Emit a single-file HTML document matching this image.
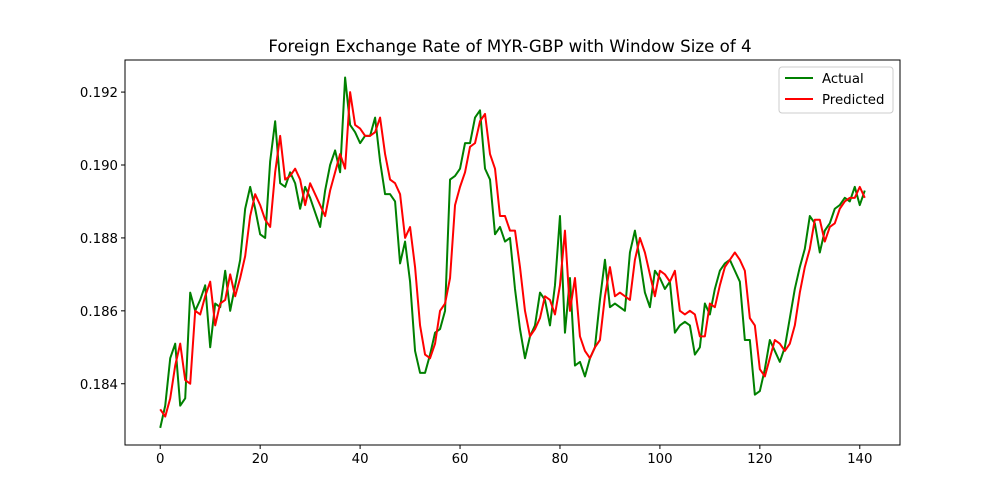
<!DOCTYPE html>
<html><head><meta charset="utf-8"><style>
body{margin:0;background:#fff;}
svg{display:block;font-family:"DejaVu Sans","Liberation Sans",sans-serif;}
</style></head><body>
<svg id="chart" width="1000" height="500">
<rect width="1000" height="500" fill="#fff"/>
<text x="510" y="52" text-anchor="middle" font-size="16.67">Foreign Exchange Rate of MYR-GBP with Window Size of 4</text>
<g id="axes"></g>
<polyline id="actual-line" fill="none" stroke="#008000" stroke-width="2" stroke-linejoin="round"/>
<polyline id="pred-line" fill="none" stroke="#ff0000" stroke-width="2" stroke-linejoin="round"/>
<rect x="125" y="60" width="775" height="385" fill="none" stroke="#000" stroke-width="1"/>
<g>
<rect x="779" y="67" width="114" height="46" rx="3" fill="#fff" stroke="#ccc"/>
<line x1="785" y1="78" x2="813" y2="78" stroke="#008000" stroke-width="2"/>
<text x="822" y="83" font-size="13.3">Actual</text>
<line x1="785" y1="99" x2="813" y2="99" stroke="#ff0000" stroke-width="2"/>
<text x="822" y="104" font-size="13.3">Predicted</text>
</g>
</svg>
<script>
const actual=[0.18279,0.1834,0.1847,0.1851,0.1834,0.1836,0.1865,0.1860,0.1863,0.1867,0.1850,0.1862,0.1861,0.1871,0.1860,0.1867,0.1874,0.1888,0.1894,0.1888,
0.1881,0.1880,0.1901,0.1912,0.1895,0.1894,0.1898,0.1895,0.1888,0.1894,0.1891,0.1887,0.1883,0.1893,0.1900,0.1904,0.1898,0.1924,0.1911,0.1909,
0.1906,0.1908,0.1908,0.1913,0.1901,0.1892,0.1892,0.1890,0.1873,0.1879,0.1868,0.1849,0.1843,0.1843,0.1848,0.1854,0.1855,0.1860,0.1896,0.1897,
0.1899,0.1906,0.1906,0.1913,0.1915,0.1899,0.1896,0.1881,0.1883,0.1879,0.1880,0.1866,0.1855,0.1847,0.1853,0.1856,0.1865,0.1863,0.1856,0.1867,
0.1886,0.1854,0.1869,0.1845,0.1846,0.1842,0.1847,0.1850,0.1863,0.1874,0.1861,0.1862,0.1861,0.1860,0.1876,0.1882,0.1874,0.1865,0.1861,0.1871,
0.1869,0.1866,0.1868,0.1854,0.1856,0.1857,0.1856,0.1848,0.1850,0.1862,0.1859,0.1866,0.1871,0.1873,0.1874,0.1871,0.1868,0.1852,0.1852,0.1837,
0.1838,0.1844,0.1852,0.1849,0.1846,0.1850,0.1858,0.1866,0.1872,0.1877,0.1886,0.1884,0.1876,0.1882,0.1884,0.1888,0.1889,0.1891,0.1890,0.1894,
0.1889,0.1893];
const predicted=[0.1833,0.1831,0.1836,0.1845,0.1851,0.1841,0.1840,0.1860,0.1859,0.1864,0.1868,0.1856,0.1862,0.1863,0.1870,0.1864,0.1869,0.1875,0.1886,0.1892,
0.1889,0.1885,0.1883,0.1898,0.1908,0.1896,0.1897,0.1899,0.1896,0.1889,0.1895,0.1892,0.1889,0.1886,0.1893,0.1898,0.1903,0.1899,0.1920,0.1911,
0.1910,0.1908,0.1908,0.1909,0.1913,0.1903,0.1896,0.1895,0.1892,0.1880,0.1883,0.1872,0.1856,0.1848,0.1847,0.1851,0.1860,0.1862,0.1869,0.1889,
0.1894,0.1898,0.1905,0.1906,0.1912,0.1914,0.1903,0.1899,0.1886,0.1886,0.1882,0.1882,0.1872,0.1860,0.1853,0.1855,0.1858,0.1864,0.1863,0.1859,
0.1867,0.1882,0.1860,0.1869,0.1853,0.1849,0.1847,0.1850,0.1852,0.1864,0.1872,0.1864,0.1865,0.1864,0.1863,0.1874,0.1880,0.1876,0.1870,0.1864,
0.1871,0.1870,0.1868,0.1871,0.1860,0.1859,0.1860,0.1859,0.1853,0.1853,0.1862,0.1861,0.1867,0.1872,0.1874,0.1876,0.1874,0.1871,0.1858,0.1856,
0.1844,0.1842,0.1847,0.1852,0.1851,0.1849,0.1851,0.1856,0.1865,0.1872,0.1877,0.1885,0.1885,0.1879,0.1883,0.1884,0.1888,0.1890,0.1891,0.1891,
0.1894,0.1891];
const xTicks=[0,20,40,60,80,100,120,140];
const yTicks=[0.184,0.186,0.188,0.190,0.192];

const L=125,R=900,T=60,B=445;
const xMin=-7.05,xMax=148.05,yMin=0.18232,yMax=0.19288;
const sx=v=>L+(v-xMin)/(xMax-xMin)*(R-L);
const sy=v=>B-(v-yMin)/(yMax-yMin)*(B-T);
const NS="http://www.w3.org/2000/svg";
const axes=document.getElementById('axes');
function mk(tag,attrs){const e=document.createElementNS(NS,tag);for(const k in attrs)e.setAttribute(k,attrs[k]);return e;}
xTicks.forEach(t=>{
  const x=sx(t);
  const l=mk('line',{x1:x,x2:x,y1:B,y2:B+4,stroke:'#000'});
  
  
  axes.appendChild(l);
  const tx=mk('text',{x:x,y:B+18,'text-anchor':'middle','font-size':'13.3'});
  tx.textContent=t;
  
  
  axes.appendChild(tx);
});
yTicks.forEach(t=>{
  const y=sy(t);
  const l=mk('line',{x1:L-4,x2:L,y1:y,y2:y,stroke:'#000'});
  
  
  axes.appendChild(l);
  const tx=mk('text',{x:L-7,y:y+5,'text-anchor':'end','font-size':'13.3'});
  tx.textContent=t.toFixed(3);
  
  
  axes.appendChild(tx);
});
document.getElementById('actual-line').setAttribute('points',actual.map((v,i)=>sx(i)+','+sy(v)).join(' '));
document.getElementById('pred-line').setAttribute('points',predicted.map((v,i)=>sx(i)+','+sy(v)).join(' '));
</script>
</body></html>
